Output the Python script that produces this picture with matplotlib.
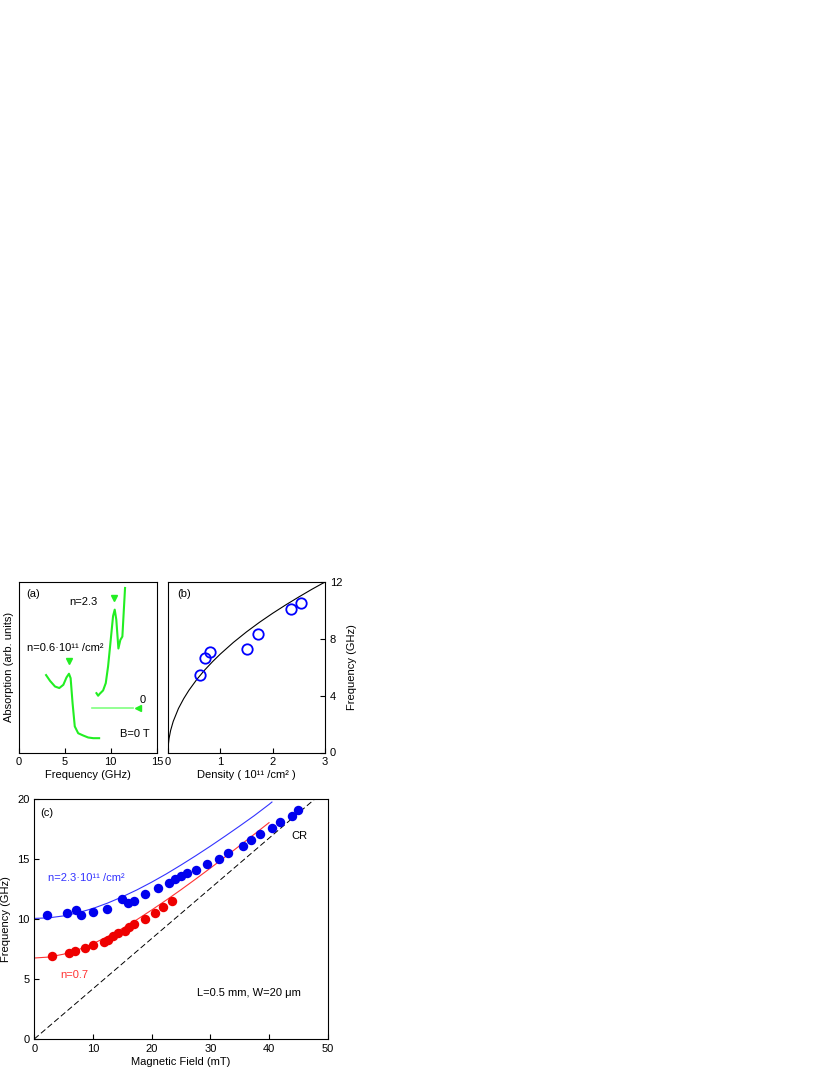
import numpy as np
import matplotlib
matplotlib.use('Agg')
import matplotlib.pyplot as plt

plt.rcParams['font.family'] = ['Liberation Sans', 'DejaVu Sans']
plt.rcParams['font.size'] = 8
plt.rcParams['xtick.labelsize'] = 8
plt.rcParams['ytick.labelsize'] = 8
plt.rcParams['axes.linewidth'] = 0.8
plt.rcParams['xtick.direction'] = 'in'
plt.rcParams['ytick.direction'] = 'in'
plt.rcParams['xtick.major.size'] = 3.5
plt.rcParams['ytick.major.size'] = 3.5
plt.rcParams['xtick.major.width'] = 0.8
plt.rcParams['ytick.major.width'] = 0.8

# (a) 吸收谱 (B=0)
spec1_f = [2.99, 3.42, 3.96, 4.42, 4.86, 5.2, 5.47, 5.65, 5.86, 6.1, 6.47, 7.0, 7.55, 8.1, 8.74]
spec1_a = [0.454, 0.42, 0.387, 0.378, 0.397, 0.44, 0.462, 0.436, 0.29, 0.153, 0.113, 0.10, 0.088, 0.084, 0.084]
spec2_f = [8.45, 8.63, 8.8, 9.17, 9.46, 9.71, 9.96, 10.25, 10.43, 10.6, 10.83, 11.04, 11.26, 11.4, 11.55]
spec2_a = [0.348, 0.333, 0.344, 0.364, 0.407, 0.505, 0.64, 0.80, 0.838, 0.78, 0.61, 0.66, 0.68, 0.818, 0.965]
peak_f = [5.47, 10.32]
peak_a = [0.534, 0.906]

# (b) 频率 vs 密度
dens = [0.62, 0.705, 0.80, 1.51, 1.71, 2.35, 2.55]
freq_b = [5.43, 6.63, 7.06, 7.27, 8.35, 10.12, 10.5]
fit_n = [0, 0.005, 0.02, 0.05, 0.1, 0.2, 0.3, 0.4, 0.55, 0.7, 0.85, 1.0, 1.25, 1.5, 1.75, 2.0, 2.25, 2.5, 2.75, 3.0]
fit_f = [0, 0.49, 0.98, 1.55, 2.19, 3.10, 3.79, 4.38, 5.14, 5.80, 6.39, 6.93, 7.75, 8.49, 9.17, 9.80, 10.39, 10.95, 11.49, 12.0]

# (c) 磁等离子体色散
blue_B = [2.1, 5.5, 7.05, 8.0, 10.06, 12.4, 15.0, 16.0, 17.0, 18.9, 21.0, 23.0, 24.0, 25.0, 26.1, 27.6,
          29.5, 31.4, 33.0, 35.5, 37.0, 38.5, 40.5, 41.9, 43.9, 44.9]
blue_f = [10.33, 10.5, 10.75, 10.36, 10.6, 10.8, 11.7, 11.3, 11.5, 12.05, 12.55, 13.0, 13.3, 13.55, 13.8, 14.1,
          14.6, 15.0, 15.5, 16.1, 16.55, 17.05, 17.6, 18.05, 18.6, 19.1]
red_B = [3.0, 6.0, 7.0, 8.7, 10.06, 11.8, 12.6, 13.5, 14.3, 15.45, 16.2, 17.0, 18.9, 20.5, 22.0, 23.5]
red_f = [6.9, 7.17, 7.3, 7.55, 7.8, 8.08, 8.28, 8.55, 8.8, 9.03, 9.3, 9.55, 10.03, 10.53, 11.03, 11.54]
curve_B = [0, 2.5, 5, 7.5, 10, 12.5, 15, 17.5, 20, 22.5, 25, 27.5, 30, 32.5, 35, 37.5, 40, 40.5]
blue_fit = [10.05, 10.10, 10.26, 10.53, 10.88, 11.33, 11.85, 12.43, 13.07, 13.76, 14.50, 15.27, 16.07,
            16.90, 17.75, 18.62, 19.55, 19.75]
red_fit = [6.75, 6.83, 7.07, 7.44, 7.94, 8.54, 9.21, 9.95, 10.75, 11.58, 12.44, 13.33, 14.24, 15.17,
           16.11, 17.07, 18.03]
cr_B = [0, 47.8]
cr_f = [0, 20.0]

fig = plt.figure(figsize=(8.3, 10.75), dpi=100)

# ---- (a)
ax1 = fig.add_axes([0.0223, 0.30, 0.1667, 0.1586])
ax1.plot(spec1_f, spec1_a, color='#22ee22', lw=1.5)
ax1.plot(spec2_f, spec2_a, color='#22ee22', lw=1.5)
ax1.plot([8.0, 12.4], [0.26, 0.26], color='#80ff80', lw=1.2)
ax1.plot([13.0], [0.26], marker='<', color='#22ee22', ms=4, ls='none')
ax1.plot(peak_f, peak_a, marker='v', color='#22ee22', ms=5, ls='none')
ax1.text(13.1, 0.29, '0')
ax1.text(0.055, 0.93, '(a)', transform=ax1.transAxes, va='center')
ax1.text(0.37, 0.885, 'n=2.3', transform=ax1.transAxes, va='center')
ax1.text(0.06, 0.61, 'n=0.6·10¹¹ /cm²', transform=ax1.transAxes, va='center')
ax1.text(0.73, 0.11, 'B=0 T', transform=ax1.transAxes, va='center')
ax1.set_xlim(0, 15)
ax1.set_ylim(0, 1)
ax1.set_xticks([0, 5, 10, 15])
ax1.set_yticks([])
ax1.set_xlabel('Frequency (GHz)', labelpad=2)
ax1.set_ylabel('Absorption (arb. units)', labelpad=3)

# ---- (b)
ax2 = fig.add_axes([0.2024, 0.30, 0.1892, 0.1586])
ax2.plot(fit_n, fit_f, color='black', lw=0.8)
ax2.plot(dens, freq_b, 'o', mfc='none', mec='#0000ff', mew=1.3, ms=7.5)
ax2.text(0.06, 0.93, '(b)', transform=ax2.transAxes, va='center')
ax2.set_xlim(0, 3)
ax2.set_ylim(0, 12)
ax2.set_xticks([0, 1, 2, 3])
ax2.set_yticks([0, 4, 8, 12])
ax2.yaxis.tick_right()
ax2.yaxis.set_label_position('right')
ax2.set_xlabel('Density ( 10¹¹ /cm² )', labelpad=2)
ax2.set_ylabel('Frequency (GHz)', labelpad=3)

# ---- (c)
ax3 = fig.add_axes([0.0413, 0.0335, 0.3535, 0.2232])
ax3.plot(cr_B, cr_f, color='black', lw=0.7, dashes=(6, 3))
ax3.plot(curve_B, blue_fit, color='#3333ff', lw=0.8)
ax3.plot(curve_B[:len(red_fit)], red_fit, color='#ff3333', lw=0.8)
ax3.plot(blue_B, blue_f, 'o', color='#0000ee', ms=6.8, mec='none')
ax3.plot(red_B, red_f, 'o', color='#ee0000', ms=6.8, mec='none')
ax3.text(0.02, 0.943, '(c)', transform=ax3.transAxes, va='center')
ax3.text(0.048, 0.67, 'n=2.3·10¹¹ /cm²', transform=ax3.transAxes, va='center', color='#3333ff')
ax3.text(4.4, 5.33, 'n=0.7', va='center', color='#ff3333')
ax3.text(43.8, 16.9, 'CR', va='center')
ax3.text(27.7, 3.8, 'L=0.5 mm, W=20 μm', va='center')
ax3.set_xlim(0, 50)
ax3.set_ylim(0, 20)
ax3.set_xticks([0, 10, 20, 30, 40, 50])
ax3.set_yticks([0, 5, 10, 15, 20])
ax3.set_xlabel('Magnetic Field (mT)', labelpad=2)
ax3.set_ylabel('Frequency (GHz)', labelpad=4)

fig.savefig('out.png', dpi=100)
